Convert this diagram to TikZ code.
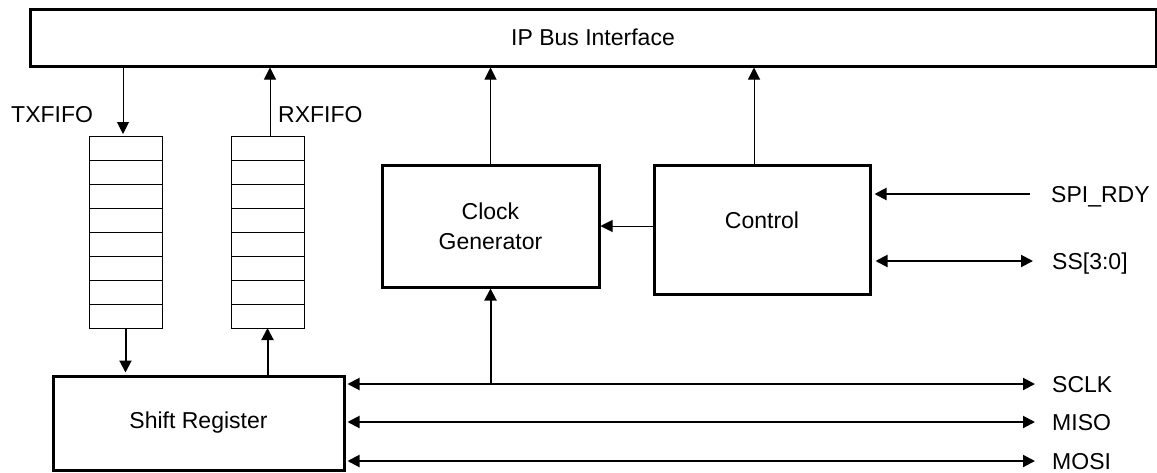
\documentclass[tikz,border=0pt]{standalone}
\usepackage{fontspec}
\setmainfont{Liberation Sans}
\usetikzlibrary{arrows.meta}
\begin{document}
\begin{tikzpicture}[x=1pt,y=-1pt,
  box/.style={draw,line width=3pt,inner sep=0pt,align=center,font=\fontsize{23}{30}\selectfont},
  cell/.style={draw,line width=1pt,minimum width=73pt,minimum height=24pt,inner sep=0pt,outer sep=0pt},
  lbl/.style={font=\fontsize{23}{28}\selectfont,inner sep=0pt,text height=16.5pt,text depth=0pt},
  tip/.style={-{Triangle[length=12pt,width=12pt]}},
  tips/.style={{Triangle[length=12pt,width=12pt]}-{Triangle[length=12pt,width=12pt]}},
  lwa/.style={line width=1pt},
  lwb/.style={line width=2pt},
]
\useasboundingbox (0,0) rectangle (1157,472);

% blocks
\node[box,minimum width=1126pt,minimum height=57pt] (ip) at (593,37.5) {IP Bus Interface};
\node[box,minimum width=217pt,minimum height=122pt] (clk) at (490.5,226) {Clock\\Generator};
\node[box,minimum width=216pt,minimum height=129pt,text depth=18pt] (ctl) at (762,229.5) {Control};
\node[box,minimum width=291pt,minimum height=94pt] (sr) at (198.5,423) {Shift Register};

% FIFOs
\foreach \i in {1,...,8} {
  \node[cell] (tx\i) at (125.5,{124+24*\i}) {};
  \node[cell] (rx\i) at (267.5,{124+24*\i}) {};
}
\node[lbl,anchor=west] (txl) at (11,114) {TXFIFO};
\node[lbl,anchor=west] (rxl) at (278,114) {RXFIFO};

% signal labels
\node[lbl,anchor=west] (spi) at (1051,194) {SPI\_RDY};
\node[lbl,anchor=west] (ss) at (1052,261) {SS[3:0]};
\node[lbl,anchor=west] (sclk) at (1052,384) {SCLK};
\node[lbl,anchor=west] (miso) at (1052,422) {MISO};
\node[lbl,anchor=west] (mosi) at (1052,461) {MOSI};

% FIFO connections
\coordinate (txin) at ([xshift=-2.5pt]tx1.north);
\draw[lwa,tip,shorten >=2pt] (ip.south -| txin) -- (txin);
\coordinate (rxout) at ([xshift=2.5pt]rx1.north);
\draw[lwa,tip] (rxout) -- (ip.south -| rxout);
\draw[lwb,tip,shorten >=2pt] (tx8.south) -- (tx8.south |- sr.north);
\draw[lwb,tip] (rx8.south |- sr.north) -- (rx8.south);

% clock / control
\draw[lwa,tip] (clk.north) -- (ip.south -| clk.north);
\coordinate (ctlup) at ([xshift=-8pt]ctl.north);
\draw[lwa,tip] (ctlup) -- (ip.south -| ctlup);
\draw[lwa,tip] (ctl.west |- clk.east) -- (clk.east);

% control side signals
\draw[lwb,tip,shorten >=3pt] ([xshift=-21pt]spi.west) -- (ctl.east |- spi.west);
\draw[lwb,tips,shorten <=4pt] (ctl.east |- ss.west) -- ([xshift=-19pt]ss.west);

% serial bus
\draw[lwb,tips,shorten <=2pt] (sr.east |- sclk.west) -- ([xshift=-17pt]sclk.west);
\draw[lwb,tips,shorten <=2pt] (sr.east |- miso.west) -- ([xshift=-17pt]miso.west);
\draw[lwb,tips,shorten <=2pt] (sr.east |- mosi.west) -- ([xshift=-17pt]mosi.west);
\coordinate (sj) at (clk.south |- sclk.west);
\draw[lwb,tip] (sj) -- (clk.south);
\end{tikzpicture}
\end{document}
